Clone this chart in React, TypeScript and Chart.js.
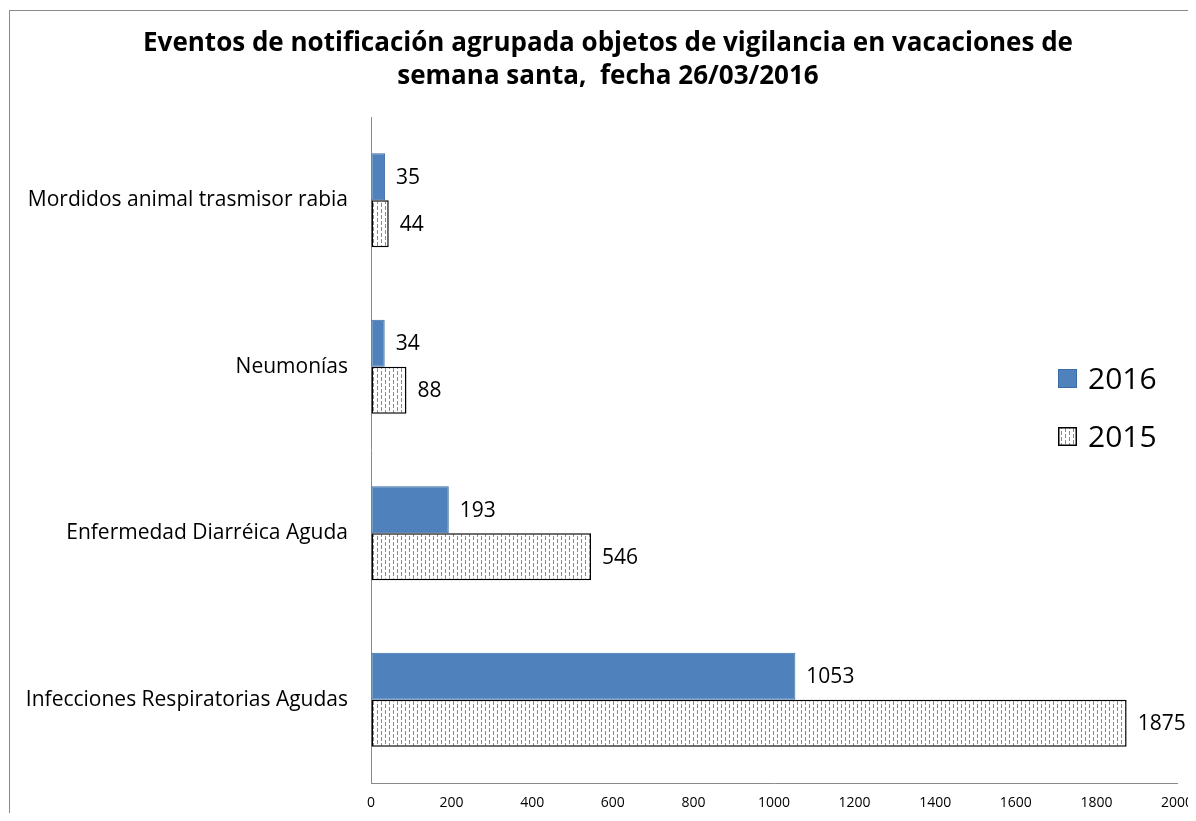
import React, { useEffect, useRef } from "react";
import { Chart, registerables } from "chart.js";

Chart.register(...registerables);

const categories = [
  "Mordidos animal trasmisor rabia",
  "Neumonías",
  "Enfermedad Diarréica Aguda",
  "Infecciones Respiratorias Agudas",
];
const values2016 = [35, 34, 193, 1053];
const values2015 = [44, 88, 546, 1875];
const seriesNames = ["2016", "2015"];
const titleLines = [
  "Eventos de notificación agrupada objetos de vigilancia en vacaciones de",
  "semana santa,  fecha 26/03/2016",
];
const xMax = 2000;
const xStep = 200;

const FONT = "'Open Sans', 'Noto Sans', sans-serif";
const BLUE = "#4F81BD";
const W = 1188;
const H = 805;

function makePattern(): CanvasPattern | string {
  const c = document.createElement("canvas");
  c.width = 8;
  c.height = 6;
  const g = c.getContext("2d");
  if (!g) return "#ffffff";
  g.fillStyle = "#ffffff";
  g.fillRect(0, 0, 8, 6);
  g.fillStyle = "#5f93d6";
  g.fillRect(1, 0, 1, 4);
  g.fillRect(5, 3, 1, 3);
  g.fillRect(5, 0, 1, 1);
  const p = g.createPattern(c, "repeat");
  return p || "#ffffff";
}

export default function App() {
  const ref = useRef<HTMLCanvasElement | null>(null);

  useEffect(() => {
    document.documentElement.style.overflow = "hidden";
    document.body.style.overflow = "hidden";
    if (!ref.current) return;
    const pattern = makePattern();

    const decor = {
      id: "decor",
      beforeDraw(chart: any) {
        const { ctx, width, height } = chart;
        ctx.save();
        ctx.fillStyle = "#ffffff";
        ctx.fillRect(0, 0, width, height);
        ctx.strokeStyle = "#8a8a8a";
        ctx.lineWidth = 1;
        ctx.strokeRect(1.5, 2.5, width + 20, height + 20);
        ctx.restore();
      },
      afterDraw(chart: any) {
        const { ctx } = chart;
        ctx.save();
        // title
        ctx.fillStyle = "#000";
        ctx.font = `bold 26px ${FONT}`;
        ctx.textAlign = "center";
        ctx.textBaseline = "middle";
        ctx.fillText(titleLines[0], 600, 36);
        ctx.fillText(titleLines[1], 600, 69);

        // value labels
        ctx.font = `21px ${FONT}`;
        ctx.textAlign = "left";
        ctx.fillStyle = "#000";
        chart.data.datasets.forEach((ds: any, di: number) => {
          const meta = chart.getDatasetMeta(di);
          meta.data.forEach((el: any, i: number) => {
            ctx.fillText(String(ds.data[i]), el.x + 11, el.y + 1);
          });
        });

        // legend
        const lx = 1050;
        const ly = [370, 428];
        ctx.font = `30px ${FONT}`;
        seriesNames.forEach((name, i) => {
          const y = ly[i];
          if (i === 0) {
            ctx.fillStyle = BLUE;
            ctx.fillRect(lx, y - 9, 19, 19);
            ctx.strokeStyle = "#3c6ca4";
            ctx.lineWidth = 1;
            ctx.strokeRect(lx + 0.5, y - 8.5, 18, 18);
          } else {
            ctx.fillStyle = pattern as any;
            ctx.fillRect(lx, y - 9, 19, 19);
            ctx.strokeStyle = "#000";
            ctx.lineWidth = 1.5;
            ctx.strokeRect(lx + 0.75, y - 8.25, 17.5, 17.5);
          }
          ctx.fillStyle = "#000";
          ctx.textAlign = "left";
          ctx.fillText(name, lx + 30, y + 2);
        });
        ctx.restore();
      },
    };

    const chart = new Chart(ref.current, {
      type: "bar",
      data: {
        labels: categories,
        datasets: [
          {
            label: seriesNames[0],
            data: values2016,
            backgroundColor: BLUE,
            borderColor: "#3c6ca4",
            borderWidth: 1,
            borderSkipped: false,
          },
          {
            label: seriesNames[1],
            data: values2015,
            backgroundColor: pattern as any,
            borderColor: "#000000",
            borderWidth: 1.5,
            borderSkipped: false,
          },
        ],
      },
      options: {
        indexAxis: "y",
        animation: false,
        responsive: false,
        maintainAspectRatio: false,
        events: [],
        datasets: {
          bar: { categoryPercentage: 0.565, barPercentage: 1 },
        },
        layout: { padding: { left: 0, top: 109, right: W - 1169, bottom: 0 } },
        plugins: {
          legend: { display: false },
          title: { display: false },
          tooltip: { enabled: false },
        },
        scales: {
          x: {
            min: 0,
            max: xMax,
            ticks: {
              stepSize: xStep,
              color: "#000",
              font: { family: FONT, size: 14 },
              padding: 12,
              maxRotation: 0,
              callback: (v: any) => String(v),
            },
            grid: { drawOnChartArea: false, drawTicks: false },
            border: { display: true, color: "#8a8a8a", width: 1 },
            afterFit(scale: any) {
              scale.height = 30;
              scale.paddingLeft = 0;
              scale.paddingRight = 0;
            },
          },
          y: {
            ticks: {
              color: "#000",
              font: { family: FONT, size: 21 },
              padding: 23,
            },
            grid: { drawOnChartArea: false, drawTicks: false },
            border: { display: true, color: "#8a8a8a", width: 1 },
            afterFit(scale: any) {
              scale.width = 363;
              scale.paddingTop = 0;
              scale.paddingBottom = 0;
            },
          },
        },
      },
      plugins: [decor],
    });
    return () => chart.destroy();
  }, []);

  return (
    <div style={{ width: W, height: H }}>
      <canvas ref={ref} width={W} height={H} style={{ display: "block" }} />
    </div>
  );
}
